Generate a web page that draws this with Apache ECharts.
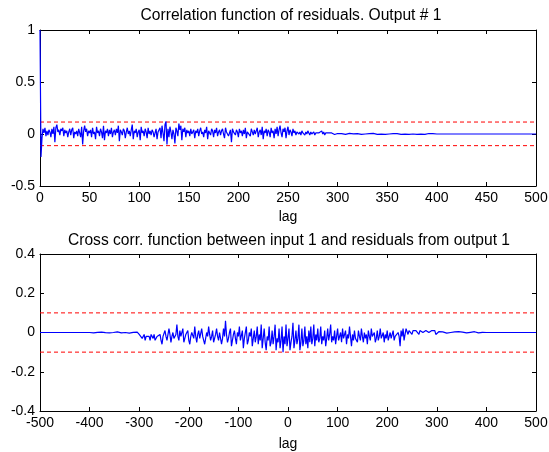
<!DOCTYPE html>
<html>
<head>
<meta charset="utf-8">
<script src="https://cdn.jsdelivr.net/npm/echarts@6/dist/echarts.min.js"></script>
<style>
html, body { margin: 0; padding: 0; background: #fff; }
#chart { width: 549px; height: 452px; }
</style>
</head>
<body>
<div id="chart"></div>
<script>
// autocorrelation of residuals, lag 0..299 (step 1)
var acfHead = [
    1, -0.22, -0.04, 0.05, 0.01, 0.06, -0.02, 0.03, -0.01, 0.04, 0.02, -0.03, 0.05, 0.00, 0.07, -0.08, 0.06, 0.09, 0.02, 0.04,
    -0.01, 0.05, 0.03, 0.06, -0.02, 0.04, 0.01, 0.03, -0.03, 0.02, 0.05, -0.01, 0.04, 0.06, -0.04, 0.02, 0.00, 0.03, -0.02, 0.05,
    0.01, -0.03, 0.07, -0.10, 0.03, 0.08, 0.02, 0.05, -0.02, 0.03, 0.01, 0.04, -0.03, 0.06, 0.00, 0.02, -0.05, 0.07, 0.01, 0.03,
    -0.02, 0.05, 0.02, -0.04, 0.08, -0.06, 0.03, 0.01, 0.05, -0.02, 0.04, 0.00, 0.06, -0.03, 0.02, 0.04, -0.01, 0.05, 0.01, 0.08,
    -0.07, 0.04, 0.02, -0.01, 0.05, 0.03, -0.04, 0.02, 0.06, 0.00, 0.03, -0.02, 0.04, 0.09, -0.05, 0.03, 0.01, 0.05, -0.03, 0.02,
    0.04, -0.06, 0.07, 0.01, 0.03, -0.02, 0.05, 0.02, -0.04, 0.06, 0.00, 0.03, -0.01, 0.04, 0.02, -0.03, 0.01, 0.05, -0.05, 0.02,
    0.03, 0.06, -0.04, 0.08, 0.01, -0.07, 0.09, 0.12, -0.10, 0.05, -0.03, 0.07, 0.02, -0.05, 0.04, 0.00, -0.09, 0.06, 0.03, -0.02,
    0.10, 0.04, 0.08, -0.06, 0.05, 0.02, 0.06, -0.03, 0.04, 0.01, 0.03, -0.02, 0.05, 0.00, 0.02, 0.04, -0.04, 0.03, 0.01, 0.05,
    -0.02, 0.03, 0.06, 0.00, 0.02, -0.03, 0.04, 0.01, 0.07, -0.05, 0.03, 0.02, -0.01, 0.05, 0.03, -0.03, 0.04, 0.01, 0.06, -0.02,
    0.02, 0.04, -0.01, 0.03, 0.05, 0.00, -0.04, 0.06, 0.02, 0.03, -0.02, 0.01, 0.04, -0.08, 0.05, 0.02, 0.03, -0.01, 0.04, 0.02,
    -0.03, 0.05, 0.01, 0.03, -0.02, 0.04, 0.00, 0.06, -0.04, 0.02, 0.03, 0.01, -0.02, 0.05, 0.02, -0.01, 0.04, 0.00, 0.03, 0.06,
    -0.03, 0.02, 0.04, -0.01, 0.07, -0.05, 0.03, 0.01, 0.05, -0.02, 0.04, 0.02, -0.03, 0.06, 0.01, 0.03, -0.04, 0.05, 0.00, 0.07,
    -0.02, 0.04, 0.08, 0.01, -0.03, 0.05, 0.02, 0.06, -0.04, 0.03, 0.07, -0.01, 0.04, 0.02, -0.02, 0.05, 0.01, 0.03, -0.01, 0.02,
    0.03, 0.00, 0.02, -0.01, 0.03, 0.01, 0.02, -0.01, 0.02, 0.00, 0.03, 0.01, -0.01, 0.02, 0.00, 0.01, 0.02, -0.01, 0.01, 0.00,
    0.02, 0.01, 0.00, 0.01, 0.03, 0.00, 0.02, -0.01, 0.01, 0.02, 0.00, 0.01, 0.00, 0.02, 0.01, 0.00, 0.01, -0.005, 0.01, 0.00
];
// lag 300..400 (step 2), flat after that
var acfTail = [
    0.005, -0.003, 0.004, 0.000, -0.004, 0.003, 0.006, -0.002, 0.002, -0.005,
    0.004, 0.001, -0.003, 0.005, 0.000, -0.004, 0.003, -0.002, 0.006, 0.001,
    -0.003, 0.004, -0.001, 0.002, -0.004, 0.005, 0.000, -0.002, 0.003, -0.005,
    0.004, 0.001, -0.003, 0.006, -0.002, 0.003, -0.004, 0.002, 0.000, 0.005,
    -0.003, 0.004, -0.001, 0.003, -0.004, 0.002, 0.005, -0.002, 0.003, -0.001,
    0
];
var acfConf = [0.115, -0.112];

// cross correlation, lag -400..-304 (step 4)
var ccfPre = [
    0.000, 0.003, -0.002, 0.004, 0.001, -0.003, 0.002, 0.005, -0.001, 0.003,
    -0.002, 0.004, 0.000, -0.003, 0.003, 0.001, -0.002, 0.004, 0.000, 0.002,
    -0.003, 0.003, 0.001, -0.002, 0.002
];
// lag -300..300 (step 2)
var ccfMain = [
    -0.01, -0.02, -0.01, -0.03, -0.02, -0.01, -0.04, -0.02, -0.01, -0.03, -0.02, -0.04, -0.01, -0.02, -0.03, -0.01, -0.04, -0.05, -0.02, -0.01,
    -0.03, -0.01, -0.04, -0.06, -0.02, -0.03, 0.01, -0.02, -0.04, -0.03, 0.02, -0.01, -0.05, -0.02, 0.00, -0.03, -0.04, -0.01, 0.04, -0.02,
    -0.04, 0.01, -0.02, -0.03, 0.02, -0.05, -0.03, -0.01, -0.02, 0.01, -0.04, -0.06, -0.02, 0.00, -0.01, -0.03, 0.03, -0.02, -0.05, -0.01,
    0.01, -0.03, -0.04, 0.02, -0.02, -0.01, -0.06, -0.03, 0.00, -0.02, 0.03, -0.01, -0.04, -0.02, 0.01, -0.05, -0.03, -0.01, 0.02, -0.02,
    -0.04, 0.00, -0.01, -0.06, -0.03, 0.02, -0.02, 0.06, -0.01, -0.05, -0.03, 0.00, 0.02, -0.07, -0.04, -0.01, 0.01, -0.03, -0.06, 0.00,
    -0.02, 0.03, -0.04, -0.05, 0.01, -0.08, -0.03, -0.02, 0.03, -0.06, -0.04, 0.00, -0.02, 0.02, -0.07, -0.03, 0.01, -0.05, -0.02, 0.03,
    -0.06, -0.01, -0.04, 0.04, -0.08, -0.03, 0.02, -0.05, -0.09, -0.02, -0.04, 0.03, -0.07, -0.05, 0.01, -0.06, -0.02, 0.04, -0.09, -0.03,
    -0.05, 0.02, -0.08, -0.04, 0.03, -0.10, -0.02, -0.06, 0.04, -0.07, -0.03, 0.02, -0.09, -0.05, -0.02, 0.05, -0.08, -0.04, 0.01, -0.06,
    -0.03, 0.04, -0.09, -0.05, 0.02, -0.07, -0.04, 0.03, -0.06, -0.02, -0.08, 0.01, -0.05, 0.03, -0.06, -0.03, 0.04, -0.07, -0.01, -0.04,
    0.02, -0.05, -0.03, 0.03, -0.06, -0.02, -0.04, 0.01, -0.07, -0.03, 0.02, -0.04, -0.01, 0.04, -0.05, -0.02, -0.04, 0.01, -0.06, -0.02,
    0.02, -0.04, -0.03, 0.00, -0.05, 0.02, -0.03, -0.02, 0.01, -0.06, -0.01, -0.03, 0.03, -0.02, -0.07, -0.01, -0.04, 0.01, -0.03, -0.02,
    -0.05, 0.01, -0.02, -0.04, 0.02, -0.02, -0.05, 0.00, -0.03, -0.01, -0.06, 0.01, -0.02, -0.04, 0.02, -0.02, -0.03, 0.00, -0.05, -0.03,
    0.01, -0.04, -0.02, 0.02, -0.03, -0.02, 0.00, -0.05, -0.01, -0.03, 0.01, -0.04, -0.02, 0.00, -0.03, -0.02, 0.01, -0.04, -0.02, -0.01,
    -0.03, 0.00, -0.02, -0.07, 0.01, -0.02, 0.02, -0.04, -0.01, 0.02, 0.02, -0.01, 0.01, 0.00, 0.01, -0.01, 0.01, 0.00, 0.01, 0.01,
    0.00, 0.01, -0.01, 0.01, 0.00, 0.02, 0.00, 0.01, -0.01, 0.01, 0.00, 0.01, 0.00, 0.01, -0.01, 0.01, 0.02, 0.00, 0.01, -0.01,
    0.00
];
// lag 304..400 (step 4)
var ccfPost = [
    0.004, -0.002, 0.003, 0.001, -0.003, 0.005, 0.000, -0.002, 0.003, -0.001,
    0.004, -0.003, 0.002, 0.000, -0.002, 0.003, 0.001, -0.003, 0.004, 0.000,
    -0.002, 0.002, 0.001, -0.001, 0
];
var ccfConf = [0.1, -0.1];

var topTicks = [0, 500, 50, -0.5, 1, 0.5];
var botTicks = [-500, 500, 100, -0.4, 0.4, 0.2];

function toPairs(start, step, vals) {
    var out = [];
    for (var i = 0; i < vals.length; i++) {
        out.push([start + i * step, vals[i]]);
    }
    return out;
}

var acfData = toPairs(0, 1, acfHead).concat(toPairs(300, 2, acfTail));
acfData.push([500, 0]);

var ccfData = [[-500, 0]].concat(toPairs(-400, 4, ccfPre), toPairs(-300, 2, ccfMain), toPairs(304, 4, ccfPost));
ccfData.push([500, 0]);

var fontName = 'Liberation Sans';
var txt = { color: '#000', fontFamily: fontName, fontSize: 14 };

function xAx(grid, t, pos, labels, name, gap) {
    return {
        type: 'value', gridIndex: grid, position: pos,
        min: t[0], max: t[1], interval: t[2],
        name: name || '', nameLocation: 'middle', nameGap: gap || 0,
        nameTextStyle: txt,
        axisLine: { show: true, onZero: false, lineStyle: { color: '#000', width: 1 } },
        axisTick: { show: true, inside: true, length: 4, lineStyle: { color: '#000' } },
        axisLabel: { show: labels, margin: 5, color: '#000', fontFamily: fontName, fontSize: 14, showMinLabel: true, showMaxLabel: true },
        splitLine: { show: false }
    };
}

function yAx(grid, t, pos, labels) {
    return {
        type: 'value', gridIndex: grid, position: pos,
        min: t[3], max: t[4], interval: t[5],
        axisLine: { show: true, onZero: false, lineStyle: { color: '#000', width: 1 } },
        axisTick: { show: true, inside: true, length: 4, lineStyle: { color: '#000' } },
        axisLabel: { show: labels, margin: 5, color: '#000', fontFamily: fontName, fontSize: 14, showMinLabel: true, showMaxLabel: true },
        splitLine: { show: false }
    };
}

function confLine(x0, x1, y, xi, yi) {
    return {
        type: 'line', xAxisIndex: xi, yAxisIndex: yi,
        data: [[x0, y], [x1, y]],
        symbol: 'none', silent: true, z: 1,
        lineStyle: { color: '#ff0000', width: 1, type: [4, 3] }
    };
}

var chart = echarts.init(document.getElementById('chart'), null, { renderer: 'canvas' });

var titleStyle = { color: '#000', fontFamily: fontName, fontSize: 15.6, fontWeight: 'normal' };

var option = {
    animation: false,
    backgroundColor: '#fff',
    title: [
        { text: 'Correlation function of residuals. Output # 1', left: 286, top: 3, textAlign: 'center', textStyle: titleStyle },
        { text: 'Cross corr. function between input 1 and residuals from output 1', left: 284, top: 228, textAlign: 'center', textStyle: titleStyle }
    ],
    grid: [
        { left: 40, top: 30, width: 496, height: 156, outerBoundsMode: 'none' },
        { left: 40, top: 254, width: 496, height: 157, outerBoundsMode: 'none' }
    ],
    xAxis: [
        xAx(0, topTicks, 'bottom', true, 'lag', 24),
        xAx(0, topTicks, 'top', false),
        xAx(1, botTicks, 'bottom', true, 'lag', 26),
        xAx(1, botTicks, 'top', false)
    ],
    yAxis: [
        yAx(0, topTicks, 'left', true),
        yAx(0, topTicks, 'right', false),
        yAx(1, botTicks, 'left', true),
        yAx(1, botTicks, 'right', false)
    ],
    series: [
        confLine(0, 500, acfConf[0], 0, 0),
        confLine(0, 500, acfConf[1], 0, 0),
        {
            type: 'line', xAxisIndex: 0, yAxisIndex: 0,
            data: acfData, symbol: 'none', z: 2,
            lineStyle: { color: '#0000ff', width: 1.2 }
        },
        confLine(-500, 500, ccfConf[0], 2, 2),
        confLine(-500, 500, ccfConf[1], 2, 2),
        {
            type: 'line', xAxisIndex: 2, yAxisIndex: 2,
            data: ccfData, symbol: 'none', z: 2,
            lineStyle: { color: '#0000ff', width: 1.2 }
        }
    ]
};

chart.setOption(option);
</script>
</body>
</html>
